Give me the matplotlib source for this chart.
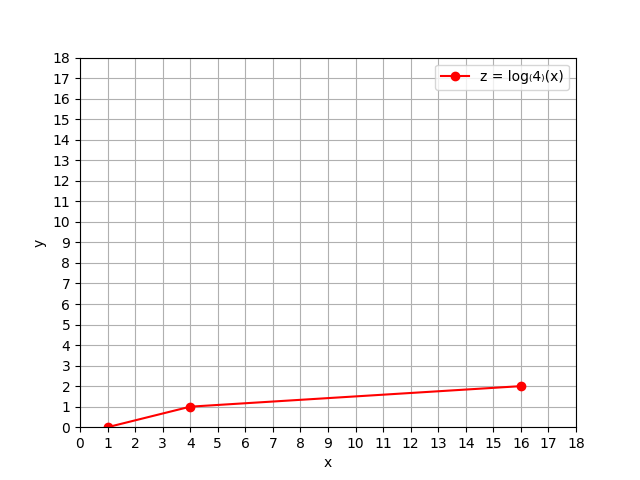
import numpy as np
import matplotlib
matplotlib.use("Agg")
import matplotlib.pyplot as plt

x_vals = [1, 4, 16]
z_vals = [0, 1, 2]
ticks = list(range(0, 19))

fig, ax = plt.subplots(figsize=(6.4, 4.8), dpi=100)
ax.plot(x_vals, z_vals, "o-", color="red", label="z = log\u208d4\u208e(x)")
ax.set_xlim(0, 18)
ax.set_ylim(0, 18)
ax.set_xticks(ticks)
ax.set_yticks(ticks)
ax.set_xlabel("x")
ax.set_ylabel("y")
ax.grid(True)
ax.legend(loc="upper right")
fig.savefig("out.png")
